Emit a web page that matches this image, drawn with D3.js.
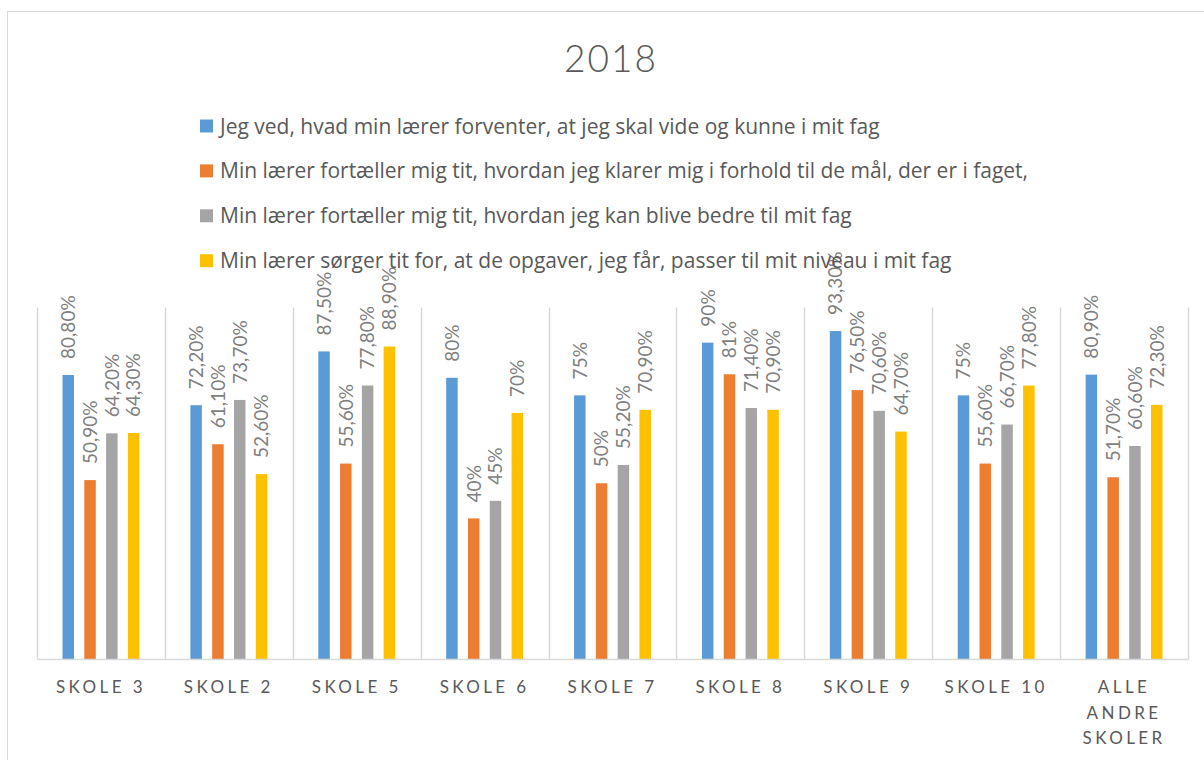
<!DOCTYPE html>
<html>
<head>
<meta charset="utf-8">
<script src="https://cdn.jsdelivr.net/npm/d3@7"></script>
<style>
  body { margin: 0; background: #fff; }
  svg text { font-family: Lato, "Open Sans", sans-serif; }
</style>
</head>
<body>
<div id="chart"></div>
<script>
// data
const chartTitle = '2018';
const categories = ['SKOLE 3', 'SKOLE 2', 'SKOLE 5', 'SKOLE 6', 'SKOLE 7', 'SKOLE 8', 'SKOLE 9', 'SKOLE 10', 'ALLE ANDRE SKOLER'];
const seriesNames = [
    'Jeg ved, hvad min lærer forventer, at jeg skal vide og kunne i mit fag',
    'Min lærer fortæller mig tit, hvordan jeg klarer mig i forhold til de mål, der er i faget,',
    'Min lærer fortæller mig tit, hvordan jeg kan blive bedre til mit fag',
    'Min lærer sørger tit for, at de opgaver, jeg får, passer til mit niveau i mit fag'
];
const forventer = [80.8, 72.2, 87.5, 80, 75, 90, 93.3, 75, 80.9];
const klarerMig = [50.9, 61.1, 55.6, 40, 50, 81, 76.5, 55.6, 51.7];
const blivBedre = [64.2, 73.7, 77.8, 45, 55.2, 71.4, 70.6, 66.7, 60.6];
const niveau = [64.3, 52.6, 88.9, 70, 70.9, 70.9, 64.7, 77.8, 72.3];
const seriesValues = [forventer, klarerMig, blivBedre, niveau];
const colors = ['#5B9BD5', '#ED7D31', '#A5A5A5', '#FFC000'];

// layout
const width = 1204;
const height = 760;
const plot = { left: 37, right: 1188, top: 307.5, bottom: 659 };

const svg = d3.select('#chart')
    .append('svg')
    .attr('width', width)
    .attr('height', height);

// chart frame (runs past the window on the right and bottom)
svg.append('rect')
    .attr('x', 7.5)
    .attr('y', 11.5)
    .attr('width', 1230)
    .attr('height', 800)
    .attr('fill', '#fff')
    .attr('stroke', '#d9d9d9');

const x = d3.scaleBand()
    .domain(categories)
    .range([plot.left, plot.right]);

const xInner = d3.scaleBand()
    .domain(d3.range(seriesValues.length))
    .range([0, x.bandwidth()])
    .paddingInner(0.473)
    .paddingOuter(1.17);

const y = d3.scaleLinear()
    .domain([0, 100])
    .range([plot.bottom, plot.top]);

// vertical separators between categories
const edges = categories.map(c => x(c)).concat([plot.right]);
svg.append('g')
    .selectAll('line')
    .data(edges)
    .join('line')
    .attr('x1', d => Math.round(d) + 0.5)
    .attr('x2', d => Math.round(d) + 0.5)
    .attr('y1', plot.top)
    .attr('y2', plot.bottom)
    .attr('stroke', '#d9d9d9')
    .attr('stroke-width', 1.5);

// bars
const rows = [];
seriesValues.forEach((vals, si) => {
    vals.forEach((v, ci) => rows.push({ series: si, cat: categories[ci], value: v }));
});

svg.append('g')
    .selectAll('rect')
    .data(rows)
    .join('rect')
    .attr('x', d => x(d.cat) + xInner(d.series))
    .attr('y', d => y(d.value))
    .attr('width', xInner.bandwidth())
    .attr('height', d => y(0) - y(d.value))
    .attr('fill', d => colors[d.series]);

// value labels, rotated
const fmt = v => (Number.isInteger(v) ? v : v.toFixed(2).replace('.', ',')) + '%';
svg.append('g')
    .selectAll('text')
    .data(rows)
    .join('text')
    .attr('transform', d => `translate(${x(d.cat) + xInner(d.series) + xInner.bandwidth() / 2}, ${y(d.value) - 16}) rotate(-90)`)
    .attr('dy', '0.36em')
    .attr('text-anchor', 'start')
    .style('font-size', '19px')
    .style('fill', '#7f7f7f')
    .text(d => fmt(d.value));

// x axis
const xAxis = svg.append('g')
    .attr('transform', `translate(0, ${plot.bottom})`)
    .call(d3.axisBottom(x).tickSize(0).tickPadding(34));
xAxis.select('.domain')
    .attr('stroke', '#d9d9d9')
    .attr('stroke-width', 1.5);
xAxis.selectAll('.tick text')
    .style('font-size', '17px')
    .style('letter-spacing', '3.4px')
    .style('fill', '#595959')
    .attr('dy', 0)
    .each(function (d) {
        // wrap long labels word by word
        const t = d3.select(this);
        const words = d.split(' ');
        t.text(null);
        let line = [];
        let tspan = t.append('tspan').attr('x', 0).attr('y', 34);
        let lineNo = 0;
        words.forEach(w => {
            line.push(w);
            tspan.text(line.join(' '));
            if (tspan.node().getComputedTextLength() > 112 && line.length > 1) {
                line.pop();
                tspan.text(line.join(' '));
                line = [w];
                lineNo++;
                tspan = t.append('tspan').attr('x', 0).attr('y', 34 + lineNo * 25.5).text(w);
            }
        });
    });

// title
svg.append('text')
    .attr('x', 611)
    .attr('y', 72)
    .attr('text-anchor', 'middle')
    .style('font-size', '37px')
    .style('font-weight', 300)
    .style('letter-spacing', '2px')
    .style('fill', '#595959')
    .text(chartTitle);

// legend
const legend = svg.append('g')
    .attr('transform', 'translate(200, 126)');
const items = legend.selectAll('g')
    .data(seriesNames)
    .join('g')
    .attr('transform', (d, i) => `translate(0, ${i * 44.9})`);
items.append('rect')
    .attr('x', 0)
    .attr('y', -6.5)
    .attr('width', 13)
    .attr('height', 13)
    .attr('fill', (d, i) => colors[i]);
items.append('text')
    .attr('x', 20)
    .attr('y', 7.5)
    .style('font-family', '"Open Sans", Lato, sans-serif')
    .style('font-size', '21px')
    .style('fill', '#595959')
    .text(d => d);
</script>
</body>
</html>
